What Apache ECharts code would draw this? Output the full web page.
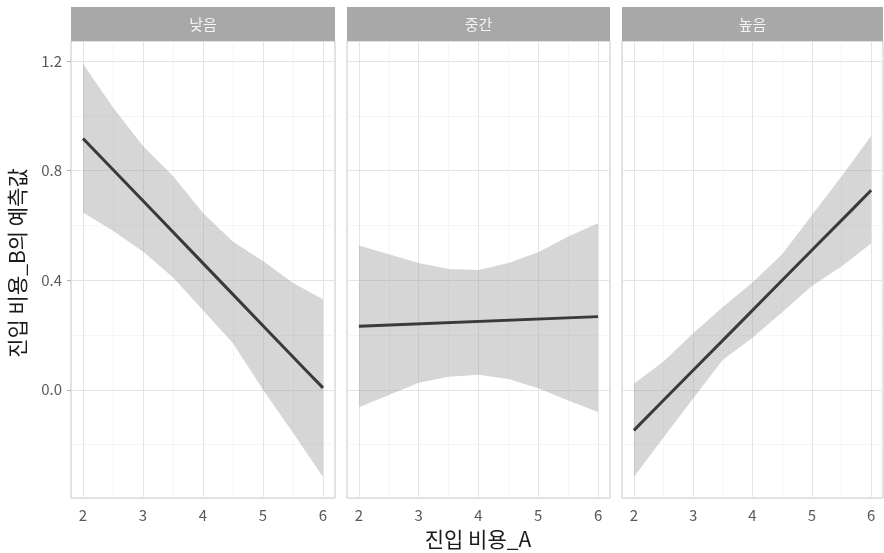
<!DOCTYPE html>
<html><head><meta charset="utf-8">
<script src="https://cdn.jsdelivr.net/npm/echarts@6/dist/echarts.min.js"></script>
<style>html,body{margin:0;padding:0;background:#fff}#c{width:884px;height:553px}</style>
</head><body><div id="c"></div>
<script>
// ---- data ----
const panelNames = ['낮음', '중간', '높음'];
const xTicks = [2, 3, 4, 5, 6];
const xMinor = [2.5, 3.5, 4.5, 5.5];
const yTicks = [0.0, 0.4, 0.8, 1.2];
const yMinor = [-0.2, 0.2, 0.6, 1.0];
const xTitle = '진입 비용_A';
const yTitle = '진입 비용_B의 예측값';

const bandX = [2, 2.5, 3, 3.5, 4, 4.5, 5, 5.5, 6];
const lowLower  = [0.647, 0.58, 0.505, 0.41, 0.29, 0.17, 0.0, -0.157, -0.318];
const lowUpper  = [1.19, 1.03, 0.89, 0.78, 0.645, 0.54, 0.47, 0.39, 0.33];
const midLower  = [-0.064, -0.019, 0.026, 0.048, 0.055, 0.039, 0.006, -0.039, -0.081];
const midUpper  = [0.527, 0.495, 0.463, 0.441, 0.437, 0.463, 0.502, 0.559, 0.608];
const highLower = [-0.318, -0.174, -0.032, 0.11, 0.19, 0.283, 0.379, 0.45, 0.534];
const highUpper = [0.022, 0.103, 0.206, 0.302, 0.392, 0.495, 0.637, 0.778, 0.926];

const lowLineX  = [2, 2.55, 3.2, 3.85, 4.35, 5.1, 5.75, 6];
const lowLineY  = [0.917, 0.792, 0.644, 0.496, 0.382, 0.211, 0.063, 0.007];
const midLineX  = [2, 6];
const midLineY  = [0.232, 0.267];
const highLineX = [2, 2.45, 3.1, 3.75, 4.4, 5.05, 5.7, 6];
const highLineY = [-0.148, -0.049, 0.093, 0.235, 0.378, 0.520, 0.662, 0.728];

// ---- layout ----
const FONT = '"Noto Sans CJK KR", "Noto Sans", sans-serif';
const X_MIN = 1.8, X_MAX = 6.2, Y_MIN = -0.395, Y_MAX = 1.273;
const grids = [
  {left: 71, width: 264},
  {left: 347, width: 263},
  {left: 622, width: 261}
];
const TOP = 41, HEIGHT = 457;

const bands = [[lowLower, lowUpper], [midLower, midUpper], [highLower, highUpper]];
const lines = [[lowLineX, lowLineY], [midLineX, midLineY], [highLineX, highLineY]];

const option = {
  animation: false,
  backgroundColor: '#ffffff',
  grid: grids.map(g => ({left: g.left, width: g.width, top: TOP, height: HEIGHT,
    show: true, borderColor: '#C6C6C6', borderWidth: 1, backgroundColor: '#fff', containLabel: false})),
  xAxis: grids.map((g, i) => ({
    type: 'value', gridIndex: i, min: X_MIN, max: X_MAX,
    axisLine: {show: false},
    splitLine: {show: false},
    axisTick: {show: true, customValues: xTicks, length: 4, lineStyle: {color: '#B3B3B3'}},
    axisLabel: {show: true, customValues: xTicks, color: '#595959', fontSize: 15, fontFamily: FONT, margin: 10}
  })),
  yAxis: grids.map((g, i) => ({
    type: 'value', gridIndex: i, min: Y_MIN, max: Y_MAX,
    axisLine: {show: false},
    splitLine: {show: false},
    axisTick: {show: i === 0, customValues: yTicks, length: 4, lineStyle: {color: '#B3B3B3'}},
    axisLabel: {show: i === 0, customValues: yTicks, color: '#595959', fontSize: 15, fontFamily: FONT, margin: 9,
      formatter: v => v.toFixed(1)}
  })),
  graphic: [],
  series: []
};

grids.forEach((g, i) => {
  // strip
  option.graphic.push({type: 'rect', shape: {x: g.left, y: 7, width: g.width, height: 34},
    style: {fill: '#A8A8A8'}, silent: true});
  option.graphic.push({type: 'text', x: g.left + g.width / 2, y: 24,
    style: {text: panelNames[i], fill: '#F4F4F4', font: '15px ' + FONT, align: 'center', verticalAlign: 'middle'}, silent: true});

  const [lo, hi] = bands[i];
  option.series.push({
    type: 'custom', xAxisIndex: i, yAxisIndex: i, z: 2, silent: true,
    data: bandX.map((x, k) => [x, lo[k], hi[k]]),
    encode: {x: 0, y: [1, 2]},
    renderItem: function (params, api) {
      if (params.dataIndex !== 0) return null;
      const pts = [];
      for (let k = 0; k < bandX.length; k++) pts.push(api.coord([bandX[k], hi[k]]));
      for (let k = bandX.length - 1; k >= 0; k--) pts.push(api.coord([bandX[k], lo[k]]));
      return {type: 'polygon', shape: {points: pts}, style: {fill: 'rgba(153,153,153,0.4)'}};
    }
  });

  const [lx, ly] = lines[i];
  const gridData = [];
  xTicks.forEach(v => gridData.push({xAxis: v, lineStyle: {color: '#E4E4E4', width: 1}}));
  xMinor.forEach(v => gridData.push({xAxis: v, lineStyle: {color: '#EFEFEF', width: 0.6}}));
  yTicks.forEach(v => gridData.push({yAxis: v, lineStyle: {color: '#E4E4E4', width: 1}}));
  yMinor.forEach(v => gridData.push({yAxis: v, lineStyle: {color: '#EFEFEF', width: 0.6}}));
  option.series.push({
    type: 'line', xAxisIndex: i, yAxisIndex: i, z: 3, silent: true,
    data: lx.map((x, k) => [x, ly[k]]),
    showSymbol: false, symbol: 'none',
    lineStyle: {color: '#3A3A3A', width: 3},
    markLine: {z: 1, silent: true, symbol: 'none', label: {show: false}, animation: false,
      lineStyle: {type: 'solid'}, data: gridData}
  });
});

option.graphic.push({type: 'text', x: 478, y: 539,
  style: {text: xTitle, fill: '#1A1A1A', font: '21px ' + FONT, align: 'center', verticalAlign: 'middle'}, silent: true});
option.graphic.push({type: 'text', x: 17, y: 263, rotation: Math.PI / 2,
  style: {text: yTitle, fill: '#1A1A1A', font: '21px ' + FONT, align: 'center', verticalAlign: 'middle'}, silent: true});

const chart = echarts.init(document.getElementById('c'), null, {renderer: 'canvas'});
chart.setOption(option);
</script></body></html>
